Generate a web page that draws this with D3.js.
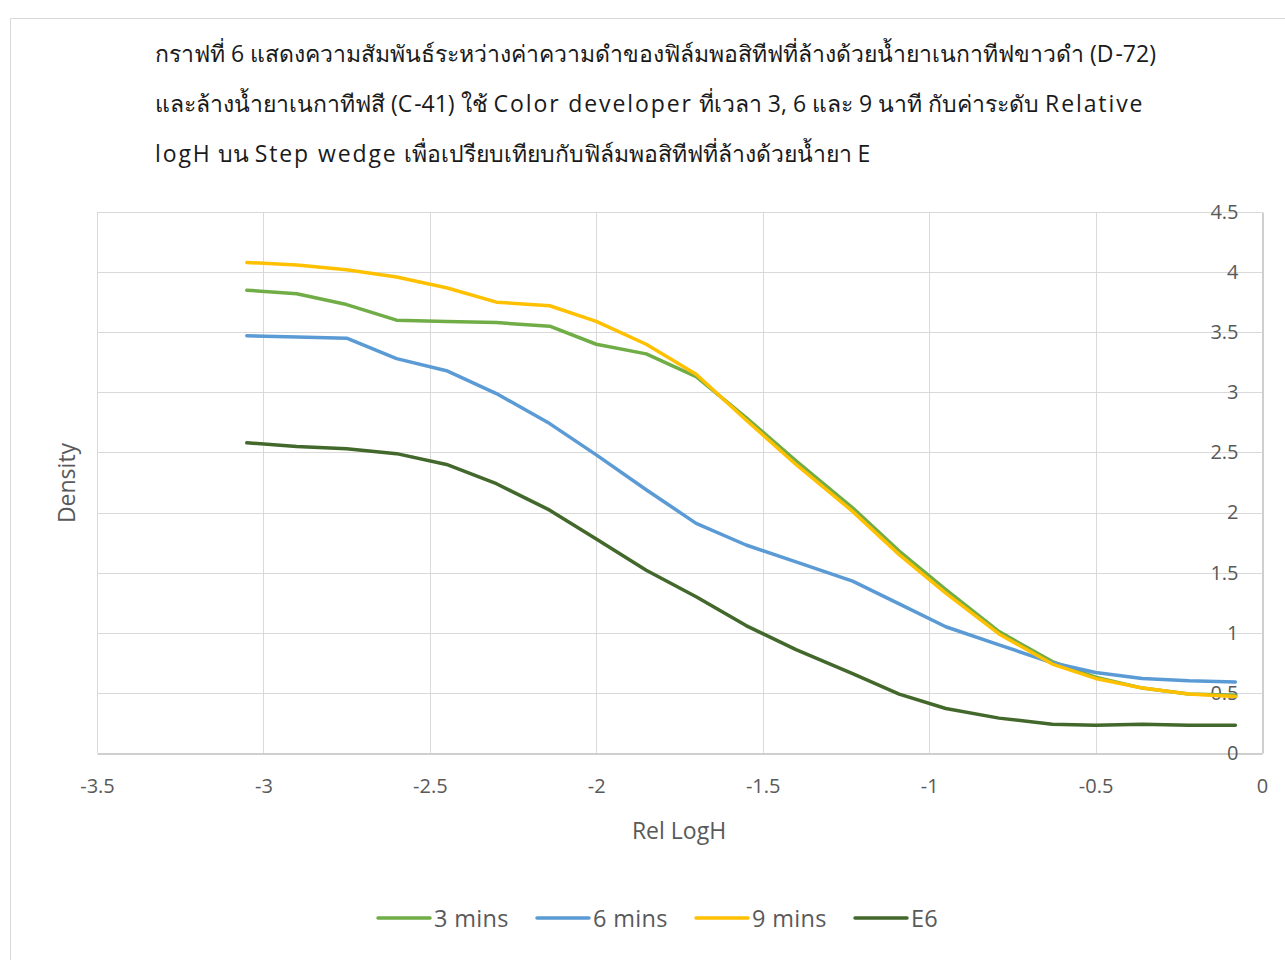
<!DOCTYPE html>
<html>
<head>
<meta charset="utf-8">
<script src="https://cdn.jsdelivr.net/npm/d3@7"></script>
<style>
  html, body { margin: 0; padding: 0; background: #fff; }
  svg { display: block; }
  text { font-family: "Open Sans", "Noto Sans", sans-serif; }
</style>
</head>
<body>
<svg id="chart" width="1285" height="960"></svg>
<script>
const titleLines = [
  "กราฟที่ 6 แสดงความสัมพันธ์ระหว่างค่าความดำของฟิล์มพอสิทีฟที่ล้างด้วยน้ำยาเนกาทีฟขาวดำ (D-72)",
  "และล้างน้ำยาเนกาทีฟสี (C-41) ใช้ Color developer ที่เวลา 3, 6 และ 9 นาที กับค่าระดับ Relative",
  "logH บน Step wedge เพื่อเปรียบเทียบกับฟิล์มพอสิทีฟที่ล้างด้วยน้ำยา E"
];
const xLabel = "Rel LogH";
const yLabel = "Density";
const xTicks = [-3.5, -3, -2.5, -2, -1.5, -1, -0.5, 0];
const yTicks = [0, 0.5, 1, 1.5, 2, 2.5, 3, 3.5, 4, 4.5];

const relLogH = [-3.05, -2.90, -2.75, -2.60, -2.45, -2.30, -2.14, -2.00, -1.85, -1.70, -1.55,
                 -1.40, -1.23, -1.09, -0.95, -0.79, -0.63, -0.50, -0.36, -0.22, -0.08];
const mins3 = [3.85, 3.82, 3.73, 3.60, 3.59, 3.58, 3.55, 3.40, 3.32, 3.13, 2.79,
               2.43, 2.04, 1.68, 1.36, 1.01, 0.76, 0.63, 0.54, 0.49, 0.48];
const mins6 = [3.47, 3.46, 3.45, 3.28, 3.18, 2.99, 2.74, 2.48, 2.19, 1.91, 1.73,
               1.59, 1.43, 1.24, 1.05, 0.90, 0.75, 0.67, 0.62, 0.60, 0.59];
const mins9 = [4.08, 4.06, 4.02, 3.96, 3.87, 3.75, 3.72, 3.59, 3.40, 3.15, 2.77,
               2.40, 2.01, 1.65, 1.33, 0.99, 0.74, 0.62, 0.54, 0.49, 0.47];
const e6 = [2.58, 2.55, 2.53, 2.49, 2.40, 2.24, 2.02, 1.78, 1.52, 1.30, 1.06,
            0.86, 0.66, 0.49, 0.37, 0.29, 0.24, 0.23, 0.24, 0.23, 0.23];
const seriesNames = ["3 mins", "6 mins", "9 mins", "E6"];
const seriesColors = ["#70ad47", "#5b9bd5", "#ffc000", "#43682b"];

(function () {
const series = [mins3, mins6, mins9, e6].map((vals, i) => ({
  name: seriesNames[i], color: seriesColors[i],
  points: vals.map((v, j) => [relLogH[j], v])
}));

const svg = d3.select("#chart");
const pLeft = 97, pRight = 1262, pTop = 212, pBottom = 753;

// chart frame
svg.append("rect").attr("x", 10.5).attr("y", 18.5).attr("width", 1300).attr("height", 1000)
  .attr("fill", "#fff").attr("stroke", "#d9d9d9").attr("stroke-width", 1);

const x = d3.scaleLinear().domain([-3.5, 0]).range([pLeft, pRight]);
const y = d3.scaleLinear().domain([0, 4.5]).range([pBottom, pTop]);

// title: Latin runs get letter spacing to match the wider original face
const title = svg.append("text").attr("x", 155).attr("y", 62)
  .attr("font-size", 23).attr("fill", "#1a1a1a");
titleLines.forEach((t, i) => {
  const runs = t.split(/([A-Za-z][A-Za-z ]*[A-Za-z]|[A-Za-z])/).filter(s => s.length);
  runs.forEach((r, k) => {
    const ts = title.append("tspan").text(r);
    if (k === 0) ts.attr("x", 155).attr("y", 62 + i * 50);
    if (/[A-Za-z]/.test(r)) ts.attr("letter-spacing", 1.9);
  });
});

// gridlines
const grid = svg.append("g");
grid.selectAll("line.h").data(yTicks.filter(d => d > 0)).join("line")
  .attr("x1", pLeft).attr("x2", pRight)
  .attr("y1", d => Math.round(y(d)) + 0.5).attr("y2", d => Math.round(y(d)) + 0.5)
  .attr("stroke", "#d9d9d9").attr("stroke-width", 1);
grid.selectAll("line.v").data(xTicks.filter(d => d < 0)).join("line")
  .attr("y1", pTop).attr("y2", pBottom)
  .attr("x1", d => Math.round(x(d)) + 0.5).attr("x2", d => Math.round(x(d)) + 0.5)
  .attr("stroke", "#d9d9d9").attr("stroke-width", 1);

// x axis (bottom)
const xAxis = d3.axisBottom(x).tickValues(xTicks).tickSize(0).tickPadding(25)
  .tickFormat(d => String(d));
const gx = svg.append("g").attr("transform", `translate(0,${Math.round(pBottom) + 0.5})`).call(xAxis);
gx.select(".domain").attr("stroke", "#bfbfbf").attr("stroke-width", 1.5);
gx.selectAll("text").attr("font-size", 20).attr("fill", "#595959")
  .attr("font-family", "'Open Sans', sans-serif");

// y axis (right side at x = 0)
const yAxis = d3.axisLeft(y).tickValues(yTicks).tickSize(0).tickPadding(24)
  .tickFormat(d => String(d));
const gy = svg.append("g").attr("transform", `translate(${Math.round(pRight) + 0.5},0)`).call(yAxis);
gy.select(".domain").attr("stroke", "#bfbfbf").attr("stroke-width", 1.5);
gy.selectAll("text").attr("font-size", 20).attr("fill", "#595959")
  .attr("font-family", "'Open Sans', sans-serif");

// axis titles
svg.append("text").attr("x", 679).attr("y", 839).attr("text-anchor", "middle")
  .attr("font-size", 23).attr("fill", "#595959").text(xLabel);
svg.append("text").attr("transform", "translate(75,483) rotate(-90)").attr("text-anchor", "middle")
  .attr("font-size", 23).attr("fill", "#595959").text(yLabel);

// lines
const line = d3.line().x(d => x(d[0])).y(d => y(d[1]));
svg.append("g").selectAll("path").data(series).join("path")
  .attr("d", d => line(d.points))
  .attr("fill", "none").attr("stroke", d => d.color)
  .attr("stroke-width", 3.5).attr("stroke-linejoin", "round").attr("stroke-linecap", "round");

// legend
const legendX = [378, 537, 696, 855];
const lg = svg.append("g").selectAll("g").data(series).join("g")
  .attr("transform", (d, i) => `translate(${legendX[i]},918)`);
lg.append("line").attr("x1", 0).attr("x2", 52).attr("y1", 0).attr("y2", 0)
  .attr("stroke", d => d.color).attr("stroke-width", 3.5).attr("stroke-linecap", "round");
lg.append("text").attr("x", 56).attr("y", 8.5).attr("font-size", 23.5).attr("fill", "#595959")
  .attr("letter-spacing", 0.3).text(d => d.name);
})();
</script>
</body>
</html>
